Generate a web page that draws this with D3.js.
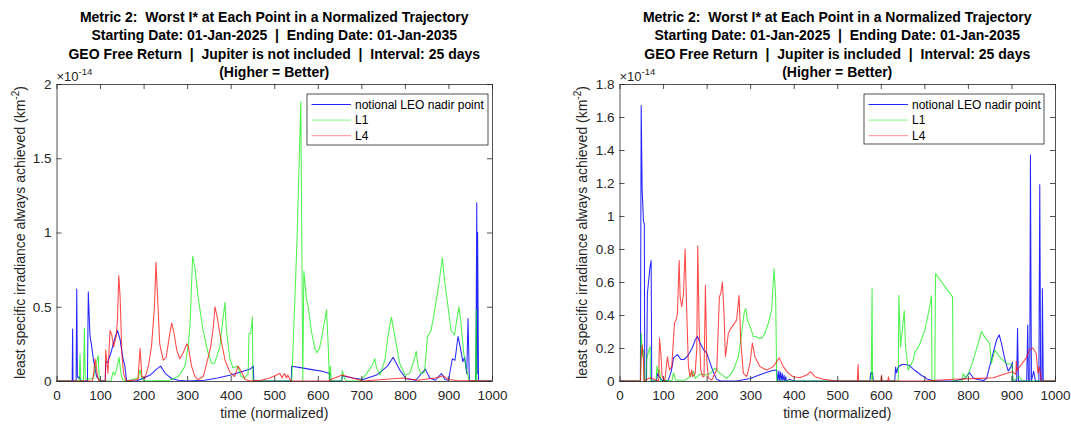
<!DOCTYPE html>
<html><head><meta charset="utf-8">
<script src="https://cdn.jsdelivr.net/npm/d3@7"></script>
<style>
body{margin:0;background:#fff}
text{font-family:"Liberation Sans",Arial,Helvetica,sans-serif;white-space:pre}
</style>
</head><body>
<svg id="c" width="1071" height="425"></svg>
<script>
// ---------------- data (values in units of 1e-14 km^-2) ----------------
const xTicks = [0,100,200,300,400,500,600,700,800,900,1000];
const leftYTicks = [0,0.5,1,1.5,2];
const rightYTicks = [0,0.2,0.4,0.6,0.8,1,1.2,1.4,1.6,1.8];
const seriesNames = ["notional LEO nadir point","L1","L4"];
const seriesColors = ["#0000ff","#00ee00","#ff0000"];
const seriesOpacity = [0.85,0.7,0.72];
const legendOpacity = [0.85,0.5,0.45];

const titleLeft = [
  "Metric 2:  Worst I* at Each Point in a Normalized Trajectory",
  "Starting Date: 01-Jan-2025  |  Ending Date: 01-Jan-2035",
  "GEO Free Return  |  Jupiter is not included  |  Interval: 25 days",
  "(Higher = Better)"
];
const titleRight = [
  "Metric 2:  Worst I* at Each Point in a Normalized Trajectory",
  "Starting Date: 01-Jan-2025  |  Ending Date: 01-Jan-2035",
  "GEO Free Return  |  Jupiter is included  |  Interval: 25 days",
  "(Higher = Better)"
];
const xLabel = "time (normalized)";
const yLabel = "least specific irradiance always achieved (km";

// Left panel: Jupiter not included
const leftLEO = [[0,0],[36,0],[37,0.35],[38,0],[45,0],[46.5,0.62],[48,0.03],[50,0.02],[53,0.03],[55,0],[71,0],[73,0.6],[77,0.3],[80,0.25],[85,0.14],[92,0.03],[100,0],[112,0],[113,0.12],[118,0.13],[125,0.19],[133,0.28],[140,0.34],[146,0.28],[152,0.16],[157,0.1],[161,0],[184,0],[200,0.02],[215,0.04],[230,0.08],[239,0.1],[250,0.05],[265,0.015],[280,0.005],[299,0],[340,0.005],[370,0.02],[400,0.04],[423,0.06],[445,0.08],[452,0.1],[453,0],[539,0],[540,0.1],[560,0.09],[590,0.075],[610,0.065],[627,0.05],[628,0],[655,0],[656,0.035],[680,0.02],[704,0.01],[735,0.04],[760,0.1],[773,0.16],[789,0.07],[803,0.015],[825,0.005],[847,0.08],[857,0.02],[870,0.005],[884,0.05],[892,0.01],[900,0.005],[909,0.15],[915,0.14],[922,0.3],[927,0.23],[933,0.13],[937,0.16],[942,0.05],[945,0.42],[948,0],[963,0],[965,1.2],[966,0.05],[967,1.0],[969,0],[1000,0]];
const leftL1 = [[0,0],[52,0],[54,0.18],[56,0],[62,0],[64,0.355],[66,0.02],[70,0.01],[85,0.02],[90,0.1],[94,0.15],[96,0.17],[98,0],[125,0],[130,0.06],[134,0.04],[138,0.08],[143.6,0.16],[148,0.05],[152,0.01],[160,0],[188,0.02],[192,0.075],[197,0.01],[205,0],[260,0.005],[280,0.03],[295,0.1],[303,0.25],[307,0.4],[312.6,0.84],[318,0.76],[325,0.57],[336,0.35],[348,0.19],[356,0.12],[363,0.12],[375,0.23],[386.7,0.53],[390,0.35],[398,0.15],[405,0.09],[416,0.1],[424,0.03],[432,0.02],[440,0.05],[442,0.32],[446,0.32],[450,0.43],[451,0],[540,0],[543,0.21],[547,0.52],[552.5,0.97],[561,1.88],[565.5,0],[568,0.74],[574,0.55],[578,0.5],[585,0.34],[593,0.22],[598,0.19],[604,0.22],[612,0.34],[620,0.48],[624,0.23],[626.6,0],[629,0.1],[631,0],[655,0],[656,0.07],[661,0.02],[665,0],[697,0],[712,0.05],[724,0.1],[731,0.15],[735,0.085],[743,0.04],[754,0.14],[761,0.3],[769,0.43],[777,0.3],[788,0.12],[800,0.04],[811,0.05],[822,0.15],[826,0.2],[830,0.1],[837,0.05],[845,0.06],[852,0.3],[860,0.34],[867,0.45],[877,0.63],[886,0.83],[891,0.68],[899,0.5],[906,0.34],[914,0.31],[919,0.41],[924,0.5],[928,0.41],[935,0.19],[941,0.08],[948,0],[962,0],[964,0.48],[965,0],[1000,0]];
const leftL4 = [[0,0],[82,0],[85,0.04],[88.5,0.15],[91,0.1],[94,0.03],[98,0],[112,0],[113,0.21],[118,0.05],[123,0.34],[127,0.31],[131,0.23],[137,0.3],[140,0.41],[143,0.71],[146,0.57],[150,0.19],[154,0.05],[160,0],[187,0.01],[192,0.22],[196,0.03],[203,0.02],[211,0.1],[218,0.23],[225,0.5],[228.4,0.8],[232,0.57],[237,0.25],[245,0.14],[252,0.16],[258,0.28],[264.4,0.39],[270,0.32],[276,0.21],[283,0.15],[291,0.19],[299,0.25],[303,0.23],[310,0.1],[318,0.03],[325,0.01],[337,0.03],[345,0.12],[354,0.23],[360,0.36],[364,0.5],[369,0.43],[375,0.32],[387,0.14],[398,0.06],[409,0.03],[417,0.1],[425,0.06],[433,0.01],[445,0],[470,0.005],[490,0.02],[505,0.04],[513,0.05],[518,0.02],[521,0.04],[524,0.05],[528,0.02],[531,0.04],[536,0.01],[540,0],[626,0],[630,0.01],[656,0.04],[680,0.02],[704,0],[750,0.01],[796,0.02],[830,0.005],[870,0.02],[888,0.035],[900,0.01],[920,0.003],[1000,0]];

// Right panel: Jupiter included
const rightLEO = [[0,0],[48,0],[49.8,1.67],[52,1.16],[55,0.97],[57,0.95],[58,0],[62,0],[64,0.53],[67,0.61],[70,0.69],[72.7,0.73],[74,0],[85,0],[87,0.046],[94,0.015],[100,0],[112,0.005],[119,0.06],[124,0.14],[133,0.16],[141,0.13],[148,0.13],[156,0.15],[167,0.2],[174,0.25],[179,0.27],[185,0.23],[193,0.19],[200,0.17],[208,0.11],[216,0.05],[223,0.01],[232,0],[269,0],[300,0.015],[330,0.045],[353,0.065],[361,0.066],[363,0],[366,0.06],[367,0],[370,0.055],[371,0],[374,0.045],[375,0],[378,0.035],[379,0],[382,0.025],[383,0],[390,0.01],[400,0],[575,0],[577,0.05],[579,0.045],[581,0.05],[583,0],[632,0],[634,0.085],[636,0.05],[640,0.085],[648,0.1],[655,0.1],[665,0.095],[678,0.065],[693,0.035],[708,0.01],[724,0],[770,0],[793,0.015],[804,0.05],[812,0.02],[820,0.01],[836,0.003],[843,0.015],[850,0.09],[858,0.17],[866,0.25],[872,0.28],[877,0.23],[885,0.13],[892.6,0.06],[900,0.09],[902,0.115],[903,0],[912,0],[914,0.32],[916,0],[935,0],[937.4,0.34],[939,0],[942,0],[943.6,1.37],[945,0.43],[946,0],[951,0.06],[955,0],[963,0],[965,1.19],[967,0],[970,0],[971,0.56],[973,0],[1000,0]];
const rightL1 = [[0,0],[48,0],[49.8,0.29],[53,0.15],[55,0.19],[57,0],[61,0],[62,0.13],[66,0.17],[70.4,0.21],[71,0],[84,0],[85.8,0.09],[89,0.047],[92,0.067],[94,0],[121,0.005],[124,0.05],[129,0.005],[150,0.005],[162,0.026],[170,0.057],[174,0.016],[185,0.042],[197,0.036],[208,0.046],[219.5,0.077],[231,0.046],[246,0.016],[255,0.04],[261.5,0.066],[273,0.147],[280.6,0.29],[286,0.41],[289.8,0.44],[293.6,0.37],[299.8,0.33],[307.4,0.27],[313.5,0.27],[318.9,0.26],[326.5,0.26],[334,0.29],[341.8,0.35],[349.4,0.43],[354.8,0.68],[358.6,0.51],[361,0],[578,0],[580,0.56],[581,0],[640,0],[641.5,0.52],[645.4,0.206],[650,0.326],[653.7,0.426],[656.8,0.206],[660.6,0.126],[663,0.066],[666.8,0.086],[674.5,0.126],[678.3,0.176],[682,0.186],[689.7,0.226],[701,0.306],[709,0.406],[716.5,0.516],[717.5,0],[724,0],[725.7,0.65],[764.7,0.51],[766,0],[787,0],[789,0.046],[795,0.016],[804.4,0.066],[812,0.126],[823.5,0.226],[831,0.3],[838.8,0.266],[850,0.226],[854,0.106],[861.7,0.186],[873,0.146],[888.4,0.106],[902,0.1],[903,0],[918,0.026],[925,0],[1000,0]];
const rightL4 = [[0,0],[48,0],[50,0.15],[52,0.22],[55.1,0.127],[56,0],[70,0.02],[90,0],[91.8,0.26],[94.9,0.17],[98,0.026],[104,0],[110,0.147],[114.7,0.067],[120,0.087],[126.2,0.35],[130,0.37],[133,0.41],[137,0.73],[139.2,0.51],[143,0.45],[146.9,0.53],[150.7,0.8],[154.5,0.41],[158.3,0.087],[162,0.026],[166,0.067],[168,0.026],[173.6,0.046],[177.4,0.187],[179.7,0.82],[182.8,0.33],[186.6,0.067],[191,0.026],[194,0.026],[197.3,0.58],[200.4,0.127],[204,0.016],[211.8,0.006],[223.3,0.067],[229.4,0.51],[232.4,0.53],[236.3,0.6],[240,0.41],[243.2,0.147],[246.3,0.21],[250,0.29],[253.9,0.31],[261.5,0.34],[269,0.37],[274.5,0.52],[278.3,0.25],[284.4,0.046],[292,0.026],[299.7,0.107],[305,0.23],[311,0.147],[322.7,0.087],[338,0.067],[353,0.087],[367,0.14],[376,0.087],[387.7,0.046],[399,0.026],[414.4,0.02],[429.7,0.036],[439,0.056],[449,0.026],[468,0.01],[498.5,0],[546,0],[548,0.1],[549,0],[600,0],[602,0.036],[603,0],[616,0],[617.5,0.026],[619,0],[700,0],[766,0.01],[827,0.016],[858,0.02],[888,0.046],[902,0.056],[910,0.04],[911,0.12],[912,0.06],[918.6,0.086],[934,0.14],[941.5,0.19],[949,0.2],[957,0.167],[960.7,0.046],[964.5,0.086],[968.3,0],[1000,0]];

// ---------------- drawing ----------------
const svg = d3.select("#c");
svg.append("rect").attr("width",1071).attr("height",425).attr("fill","#fff");
const axisColor = "#262626";

function drawPanel(p){
  const x = d3.scaleLinear().domain([0,1000]).range([p.x0,p.x1]);
  const y = d3.scaleLinear().domain([0,p.ymax]).range([p.yb,p.yt]);
  const g = svg.append("g");
  const cx = (p.x0+p.x1)/2;

  // series
  const line = d3.line().x(d=>x(d[0])).y(d=>y(d[1]));
  p.series.forEach((s,i)=>{
    g.append("path").datum(s).attr("d",line).attr("fill","none")
      .attr("stroke",seriesColors[i]).attr("stroke-opacity",seriesOpacity[i])
      .attr("stroke-width",1.05).attr("stroke-linejoin","round");
  });

  // axes (ticks inside, box)
  const fmt = d3.format("~g");
  const bottom = g.append("g").attr("transform",`translate(0,${p.yb})`)
    .call(d3.axisBottom(x).tickValues(xTicks).tickFormat(fmt).tickSizeInner(-5).tickSizeOuter(0).tickPadding(9));
  const top = g.append("g").attr("transform",`translate(0,${p.yt})`)
    .call(d3.axisTop(x).tickValues(xTicks).tickFormat("").tickSizeInner(-5).tickSizeOuter(0));
  const left = g.append("g").attr("transform",`translate(${p.x0},0)`)
    .call(d3.axisLeft(y).tickValues(p.yTicks).tickFormat(fmt).tickSizeInner(-5).tickSizeOuter(0).tickPadding(5));
  const right = g.append("g").attr("transform",`translate(${p.x1},0)`)
    .call(d3.axisRight(y).tickValues(p.yTicks).tickFormat("").tickSizeInner(-5).tickSizeOuter(0));
  [bottom,top,left,right].forEach(a=>{
    a.selectAll("path,line").attr("stroke",axisColor).attr("stroke-width",0.8);
    a.selectAll("text").attr("fill",axisColor).style("font-size","13.5px")
      .style("font-family","'Liberation Sans',Arial,sans-serif");
  });

  // exponent
  const ex = g.append("text").attr("x",p.x0).attr("y",p.yt-3).attr("fill",axisColor)
    .style("font-size","13px");
  ex.append("tspan").text("\u00d710");
  ex.append("tspan").attr("dy",-6).style("font-size","9.5px").text("-14");

  // title
  p.title.forEach((t,i)=>{
    g.append("text").attr("x",cx).attr("y",21.5+i*18.5).attr("text-anchor","middle")
      .attr("fill","#000").style("font-weight","bold").style("font-size","14px").text(t);
  });

  // x label
  g.append("text").attr("x",cx).attr("y",418).attr("text-anchor","middle")
    .attr("fill",axisColor).style("font-size","14px").text(xLabel);

  // y label
  const yl = g.append("text").attr("transform",`translate(${p.ylx},${(p.yt+p.yb)/2}) rotate(-90)`)
    .attr("text-anchor","middle").attr("dy","0.35em").attr("fill",axisColor).style("font-size","14px");
  yl.append("tspan").text(yLabel);
  yl.append("tspan").attr("dy",-6).style("font-size","10px").text("-2");
  yl.append("tspan").attr("dy",6).text(")");

  // legend
  const L = p.legend;
  const lg = g.append("g");
  lg.append("rect").attr("x",L.x).attr("y",L.y).attr("width",L.w).attr("height",L.h)
    .attr("fill","#fff").attr("stroke",axisColor).attr("stroke-width",0.8);
  seriesNames.forEach((n,i)=>{
    const yy = L.y+10.5+i*15.6;
    lg.append("line").attr("x1",L.x+4.5).attr("x2",L.x+44).attr("y1",yy).attr("y2",yy)
      .attr("stroke",seriesColors[i]).attr("stroke-opacity",legendOpacity[i]).attr("stroke-width",1);
    lg.append("text").attr("x",L.x+48).attr("y",yy+4.3).attr("fill","#000")
      .style("font-size","12px").text(n);
  });
}

drawPanel({x0:56.5,x1:492,yt:84,yb:381,ymax:2,yTicks:leftYTicks,title:titleLeft,ylx:20,
  series:[leftLEO,leftL1,leftL4],legend:{x:307,y:94,w:181,h:51}});
drawPanel({x0:619.5,x1:1055,yt:84,yb:381,ymax:1.8,yTicks:rightYTicks,title:titleRight,ylx:582,
  series:[rightLEO,rightL1,rightL4],legend:{x:864,y:94,w:180,h:50}});
</script>
</body></html>
